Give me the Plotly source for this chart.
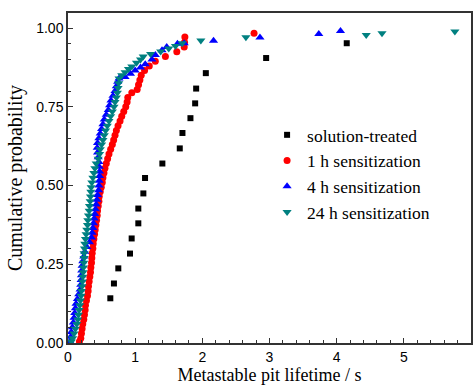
import plotly.graph_objects as go

# solution-treated
st_x = [0.63, 0.684, 0.749, 0.923, 0.948, 1.047, 1.047, 1.122, 1.147, 1.405,
        1.664, 1.704, 1.823, 1.893, 1.908, 2.052, 2.95, 4.15]
st_y = [0.142, 0.189, 0.237, 0.284, 0.332, 0.380, 0.427, 0.475, 0.524, 0.570,
        0.618, 0.667, 0.714, 0.761, 0.808, 0.857, 0.905, 0.952]

# 1 h sensitization
h1_x = [0.17, 0.19, 0.20, 0.21, 0.22, 0.235, 0.245, 0.255, 0.26, 0.275,
        0.29, 0.30, 0.305, 0.315, 0.325, 0.335, 0.34, 0.35, 0.355, 0.36,
        0.37, 0.375, 0.385, 0.395, 0.405, 0.415, 0.425, 0.435, 0.44, 0.45,
        0.46, 0.465, 0.48, 0.495, 0.51, 0.52, 0.535, 0.55, 0.57, 0.59,
        0.61, 0.635, 0.66, 0.68, 0.70, 0.72, 0.745, 0.775, 0.80, 0.83,
        0.86, 0.88, 0.89, 0.95, 1.03, 1.05, 1.07, 1.09, 1.14, 1.21,
        1.30, 1.45, 1.62, 1.73, 1.735, 1.74, 2.77]
h1_y = [0.005, 0.015, 0.03, 0.045, 0.06, 0.075, 0.09, 0.105, 0.12, 0.135,
        0.15, 0.165, 0.18, 0.195, 0.21, 0.225, 0.24, 0.255, 0.27, 0.285,
        0.30, 0.315, 0.33, 0.345, 0.36, 0.375, 0.39, 0.405, 0.42, 0.435,
        0.45, 0.465, 0.48, 0.495, 0.51, 0.525, 0.54, 0.555, 0.57, 0.585,
        0.60, 0.615, 0.63, 0.645, 0.66, 0.675, 0.69, 0.705, 0.72, 0.735,
        0.75, 0.765, 0.78, 0.795, 0.805, 0.82, 0.835, 0.85, 0.865, 0.88,
        0.895, 0.91, 0.925, 0.94, 0.955, 0.972, 0.984]

# 4 h sensitization
h4_x = [0.03, 0.04, 0.05, 0.065, 0.08, 0.09, 0.10, 0.11, 0.12, 0.14,
        0.16, 0.18, 0.19, 0.195, 0.20, 0.205, 0.21, 0.22, 0.235, 0.25,
        0.28, 0.32, 0.35, 0.36, 0.37, 0.38, 0.39, 0.40, 0.41, 0.42,
        0.43, 0.44, 0.455, 0.46, 0.465, 0.47, 0.47, 0.465, 0.46, 0.45,
        0.44, 0.435, 0.44, 0.46, 0.48, 0.50, 0.52, 0.54, 0.57, 0.60,
        0.62, 0.64, 0.67, 0.70, 0.72, 0.74, 0.76, 0.85, 0.93, 1.00,
        1.08, 1.15, 1.25, 1.30, 1.40, 1.47, 1.63, 1.73, 2.167, 2.858,
        3.734, 4.057]
h4_y = [0.005, 0.02, 0.035, 0.05, 0.065, 0.08, 0.095, 0.11, 0.125, 0.14,
        0.155, 0.17, 0.185, 0.20, 0.215, 0.23, 0.245, 0.26, 0.275, 0.29,
        0.305, 0.32, 0.335, 0.35, 0.365, 0.38, 0.395, 0.41, 0.425, 0.44,
        0.455, 0.47, 0.485, 0.50, 0.515, 0.53, 0.545, 0.56, 0.575, 0.59,
        0.605, 0.62, 0.635, 0.65, 0.665, 0.68, 0.695, 0.71, 0.725, 0.74,
        0.755, 0.77, 0.785, 0.80, 0.815, 0.83, 0.84, 0.845, 0.855, 0.865,
        0.875, 0.885, 0.90, 0.915, 0.93, 0.94, 0.95, 0.952, 0.960, 0.970,
        0.981, 0.991]

# 24 h sensitization
h24_x = [0.05, 0.07, 0.09, 0.11, 0.13, 0.145, 0.155, 0.165, 0.175, 0.185,
         0.195, 0.20, 0.21, 0.215, 0.22, 0.225, 0.23, 0.235, 0.24, 0.24,
         0.245, 0.25, 0.26, 0.27, 0.28, 0.29, 0.295, 0.305, 0.315, 0.32,
         0.33, 0.335, 0.34, 0.345, 0.355, 0.37, 0.385, 0.40, 0.42, 0.45,
         0.47, 0.48, 0.50, 0.52, 0.54, 0.56, 0.585, 0.61, 0.635, 0.66,
         0.685, 0.70, 0.72, 0.735, 0.745, 0.755, 0.76, 0.80, 0.85, 0.90,
         0.95, 1.02, 1.08, 1.12, 1.23, 1.38, 1.50, 1.60, 1.70, 1.978,
         2.649, 4.44, 4.675, 5.76]
h24_y = [0.005, 0.015, 0.03, 0.045, 0.06, 0.075, 0.09, 0.105, 0.12, 0.135,
         0.15, 0.165, 0.18, 0.195, 0.21, 0.225, 0.24, 0.255, 0.27, 0.285,
         0.30, 0.315, 0.33, 0.345, 0.36, 0.375, 0.39, 0.405, 0.42, 0.435,
         0.45, 0.465, 0.48, 0.495, 0.51, 0.525, 0.54, 0.555, 0.57, 0.585,
         0.60, 0.615, 0.63, 0.645, 0.66, 0.675, 0.69, 0.705, 0.72, 0.735,
         0.75, 0.765, 0.78, 0.795, 0.81, 0.825, 0.84, 0.85, 0.86, 0.87,
         0.878, 0.89, 0.90, 0.91, 0.918, 0.926, 0.935, 0.943, 0.952, 0.961,
         0.971, 0.978, 0.984, 0.989]

x_ticks = [0, 1, 2, 3, 4, 5, 6]
y_ticks = [0.0, 0.25, 0.5, 0.75, 1.0]
y_tick_labels = ["0.00", "0.25", "0.50", "0.75", "1.00"]

fig = go.Figure()
fig.add_trace(go.Scatter(x=st_x, y=st_y, mode="markers", name="solution-treated",
                         marker=dict(symbol="square", size=6, color="black")))
fig.add_trace(go.Scatter(x=h1_x, y=h1_y, mode="markers", name="1 h sensitization",
                         marker=dict(symbol="circle", size=7, color="#ff0000")))
fig.add_trace(go.Scatter(x=h4_x, y=h4_y, mode="markers", name="4 h sensitization",
                         marker=dict(symbol="triangle-up", size=8, color="#0000ff")))
fig.add_trace(go.Scatter(x=h24_x, y=h24_y, mode="markers", name="24 h sensitization",
                         marker=dict(symbol="triangle-down", size=8, color="#008080")))

axis_common = dict(showline=True, linecolor="#333333", linewidth=1.5, mirror=True,
                   showgrid=False, zeroline=False, ticks="inside", ticklen=5,
                   tickcolor="#333333", tickwidth=1,
                   tickfont=dict(family="Liberation Sans, Arial", size=14, color="black"))

fig.update_xaxes(range=[0, 6], tickvals=x_ticks,
                 minor=dict(ticks="inside", dtick=0.2, ticklen=3, tickcolor="#333333"),
                 title=dict(text="Metastable pit lifetime / s", standoff=4,
                            font=dict(family="Liberation Serif, Times New Roman", size=18, color="black")),
                 **axis_common)
fig.update_yaxes(range=[0, 1.048], tickvals=y_ticks, ticktext=y_tick_labels,
                 minor=dict(ticks="inside", dtick=0.05, ticklen=3, tickcolor="#333333"),
                 title=dict(text="Cumulative probability", standoff=8,
                            font=dict(family="Liberation Serif, Times New Roman", size=20, color="black")),
                 **axis_common)

fig.update_layout(
    width=473, height=385,
    margin=dict(l=68, r=2, t=13, b=42, autoexpand=False),
    plot_bgcolor="white", paper_bgcolor="white",
    legend=dict(x=0.494, y=0.685, xanchor="left", yanchor="top",
                bgcolor="rgba(0,0,0,0)",
                font=dict(family="Liberation Serif, Times New Roman", size=17.5, color="black"),
                tracegroupgap=0, itemsizing="trace"),
)

fig.write_html("out.html", config={"displayModeBar": False},
               post_script="document.body.style.margin='0';")
